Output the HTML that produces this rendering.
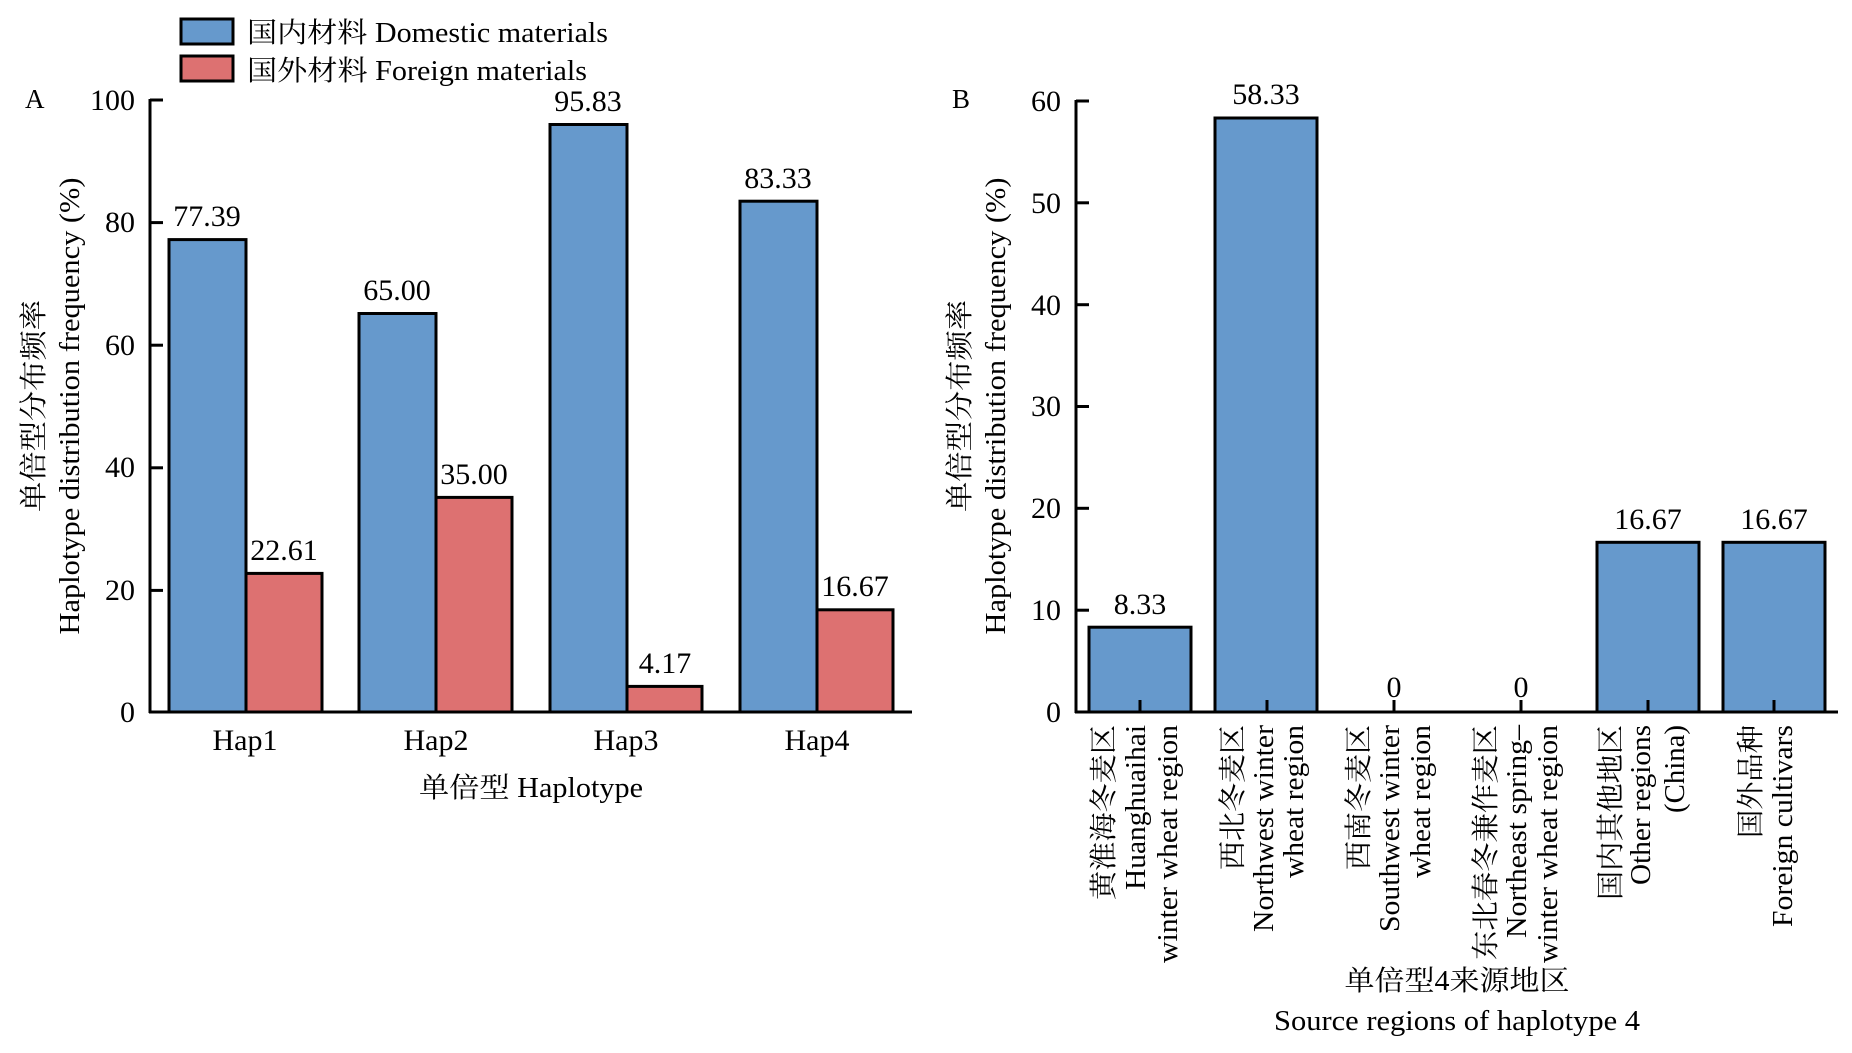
<!DOCTYPE html>
<html><head><meta charset="utf-8"><style>html,body{margin:0;padding:0;background:#fff}svg{display:block}svg text{font-family:"Liberation Serif","Noto Serif CJK SC",serif;font-size:28px}svg .n{font-size:30px}</style></head>
<body>
<svg width="1852" height="1053" viewBox="0 0 1852 1053" xmlns="http://www.w3.org/2000/svg" fill="#000">
<!-- Legend -->
<rect x="181" y="19" width="52" height="25" fill="#6699cc" stroke="#000" stroke-width="3"/>
<rect x="181" y="56" width="52" height="25" fill="#dd7171" stroke="#000" stroke-width="3"/>
<text x="247" y="42" textLength="361" lengthAdjust="spacingAndGlyphs">国内材料 Domestic materials</text>
<text x="247" y="80" textLength="340" lengthAdjust="spacingAndGlyphs">国外材料 Foreign materials</text>

<!-- Panel A -->
<text x="25" y="108" style="font-size:27px">A</text>
<g stroke="#000" stroke-width="3">
<line x1="150" y1="99" x2="150" y2="713"/>
<line x1="149" y1="712" x2="912" y2="712"/>
<line x1="150" y1="100" x2="163" y2="100"/>
<line x1="150" y1="222.6" x2="163" y2="222.6"/>
<line x1="150" y1="345.2" x2="163" y2="345.2"/>
<line x1="150" y1="467.8" x2="163" y2="467.8"/>
<line x1="150" y1="590.4" x2="163" y2="590.4"/>
</g>
<g text-anchor="end" class="n">
<text class="n" x="135" y="110">100</text>
<text class="n" x="135" y="232">80</text>
<text class="n" x="135" y="355">60</text>
<text class="n" x="135" y="477">40</text>
<text class="n" x="135" y="600">20</text>
<text class="n" x="135" y="722">0</text>
</g>
<g stroke="#000" stroke-width="3">
<rect x="169" y="239.6" width="77" height="472.4" fill="#6699cc"/>
<rect x="246" y="573.4" width="76" height="138.6" fill="#dd7171"/>
<rect x="359" y="313.5" width="77" height="398.5" fill="#6699cc"/>
<rect x="436" y="497.4" width="76" height="214.6" fill="#dd7171"/>
<rect x="550" y="124.5" width="77" height="587.5" fill="#6699cc"/>
<rect x="627" y="686.4" width="75" height="25.6" fill="#dd7171"/>
<rect x="740" y="201.2" width="77" height="510.8" fill="#6699cc"/>
<rect x="817" y="609.8" width="76" height="102.2" fill="#dd7171"/>
</g>
<g text-anchor="middle">
<text class="n" x="207" y="226">77.39</text>
<text class="n" x="284" y="560">22.61</text>
<text class="n" x="397" y="300">65.00</text>
<text class="n" x="474" y="484">35.00</text>
<text class="n" x="588" y="111">95.83</text>
<text class="n" x="665" y="673">4.17</text>
<text class="n" x="778" y="188">83.33</text>
<text class="n" x="855" y="596">16.67</text>
<text class="n" x="245" y="750">Hap1</text>
<text class="n" x="436" y="750">Hap2</text>
<text class="n" x="626" y="750">Hap3</text>
<text class="n" x="817" y="750">Hap4</text>
<text x="531" y="797" textLength="224" lengthAdjust="spacingAndGlyphs">单倍型 Haplotype</text>
</g>
<g text-anchor="middle">
<text transform="translate(43,406) rotate(-90)" textLength="212" lengthAdjust="spacingAndGlyphs">单倍型分布频率</text>
<text transform="translate(79,406) rotate(-90)" textLength="457" lengthAdjust="spacingAndGlyphs">Haplotype distribution frequency (%)</text>
<text transform="translate(969,406) rotate(-90)" textLength="212" lengthAdjust="spacingAndGlyphs">单倍型分布频率</text>
<text transform="translate(1005,406) rotate(-90)" textLength="457" lengthAdjust="spacingAndGlyphs">Haplotype distribution frequency (%)</text>
</g>

<!-- Panel B -->
<text x="952" y="108" style="font-size:27px">B</text>
<g stroke="#000" stroke-width="3">
<line x1="1076" y1="100" x2="1076" y2="713"/>
<line x1="1075" y1="712" x2="1838" y2="712"/>
<line x1="1076" y1="101" x2="1089" y2="101"/>
<line x1="1076" y1="202.8" x2="1089" y2="202.8"/>
<line x1="1076" y1="304.7" x2="1089" y2="304.7"/>
<line x1="1076" y1="406.5" x2="1089" y2="406.5"/>
<line x1="1076" y1="508.3" x2="1089" y2="508.3"/>
<line x1="1076" y1="610.2" x2="1089" y2="610.2"/>
</g>
<g text-anchor="end">
<text class="n" x="1061" y="111">60</text>
<text class="n" x="1061" y="213">50</text>
<text class="n" x="1061" y="315">40</text>
<text class="n" x="1061" y="416">30</text>
<text class="n" x="1061" y="518">20</text>
<text class="n" x="1061" y="620">10</text>
<text class="n" x="1061" y="722">0</text>
</g>
<g stroke="#000" stroke-width="3" fill="#6699cc">
<rect x="1089" y="627.2" width="102" height="84.8"/>
<rect x="1215" y="118" width="102" height="594"/>
<rect x="1597" y="542.3" width="102" height="169.7"/>
<rect x="1723" y="542.3" width="102" height="169.7"/>
<line x1="1140" y1="700" x2="1140" y2="712"/>
<line x1="1267" y1="700" x2="1267" y2="712"/>
<line x1="1394" y1="700" x2="1394" y2="712"/>
<line x1="1521" y1="700" x2="1521" y2="712"/>
<line x1="1648" y1="700" x2="1648" y2="712"/>
<line x1="1774" y1="700" x2="1774" y2="712"/>
</g>
<g text-anchor="middle">
<text class="n" x="1140" y="614">8.33</text>
<text class="n" x="1266" y="104">58.33</text>
<text class="n" x="1394" y="697">0</text>
<text class="n" x="1521" y="697">0</text>
<text class="n" x="1648" y="529">16.67</text>
<text class="n" x="1774" y="529">16.67</text>
<text x="1457" y="990" textLength="225" lengthAdjust="spacingAndGlyphs">单倍型4来源地区</text>
<text x="1457" y="1030" textLength="366" lengthAdjust="spacingAndGlyphs">Source regions of haplotype 4</text>
</g>
<g text-anchor="end">
<text transform="translate(1113,725) rotate(-90)" textLength="175" lengthAdjust="spacingAndGlyphs">黄淮海冬麦区</text>
<text transform="translate(1145,725) rotate(-90)" textLength="165" lengthAdjust="spacingAndGlyphs">Huanghuaihai</text>
<text transform="translate(1177,725) rotate(-90)" textLength="238" lengthAdjust="spacingAndGlyphs">winter wheat region</text>
<text transform="translate(1242,725) rotate(-90)" textLength="145" lengthAdjust="spacingAndGlyphs">西北冬麦区</text>
<text transform="translate(1273,725) rotate(-90)" textLength="207" lengthAdjust="spacingAndGlyphs">Northwest winter</text>
<text transform="translate(1303,725) rotate(-90)" textLength="153" lengthAdjust="spacingAndGlyphs">wheat region</text>
<text transform="translate(1368,725) rotate(-90)" textLength="145" lengthAdjust="spacingAndGlyphs">西南冬麦区</text>
<text transform="translate(1399,725) rotate(-90)" textLength="207" lengthAdjust="spacingAndGlyphs">Southwest winter</text>
<text transform="translate(1430,725) rotate(-90)" textLength="153" lengthAdjust="spacingAndGlyphs">wheat region</text>
<text transform="translate(1495,725) rotate(-90)" textLength="235" lengthAdjust="spacingAndGlyphs">东北春冬兼作麦区</text>
<text transform="translate(1526,725) rotate(-90)" textLength="213" lengthAdjust="spacingAndGlyphs">Northeast spring–</text>
<text transform="translate(1557,725) rotate(-90)" textLength="238" lengthAdjust="spacingAndGlyphs">winter wheat region</text>
<text transform="translate(1620,725) rotate(-90)" textLength="175" lengthAdjust="spacingAndGlyphs">国内其他地区</text>
<text transform="translate(1650,725) rotate(-90)" textLength="160" lengthAdjust="spacingAndGlyphs">Other regions</text>
<text transform="translate(1684,725) rotate(-90)" textLength="88" lengthAdjust="spacingAndGlyphs">(China)</text>
<text transform="translate(1760,725) rotate(-90)" textLength="113" lengthAdjust="spacingAndGlyphs">国外品种</text>
<text transform="translate(1792,725) rotate(-90)" textLength="202" lengthAdjust="spacingAndGlyphs">Foreign cultivars</text>
</g>
</svg>
</body></html>
